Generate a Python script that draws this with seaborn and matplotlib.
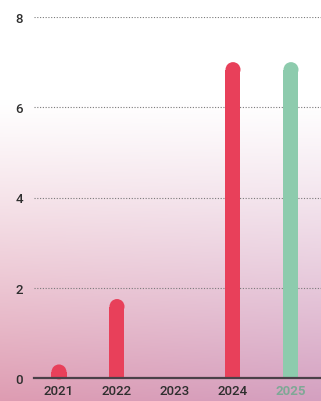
import numpy as np
import pandas as pd
import matplotlib
matplotlib.use("Agg")
import matplotlib.pyplot as plt
import seaborn as sns

YEARS = ["2021", "2022", "2023", "2024", "2025"]
VALUES = [0.3, 1.75, 0.0, 7.0, 7.0]
HIGHLIGHT = "2025"
Y_TICKS = [0, 2, 4, 6, 8]

RED = "#E8405A"
GREEN = "#8DCBAD"

W, H, DPI = 321, 402, 100

sns.set_theme(style="white")
plt.rcParams["font.family"] = ["Roboto", "DejaVu Sans"]

fig = plt.figure(figsize=(W / DPI, H / DPI), dpi=DPI)

# gradient background: white top, pink/mauve bottom
bg = fig.add_axes([0, 0, 1, 1], zorder=-10)
rows = np.linspace(0, 1, H)[:, None]
cols = np.linspace(0, 1, W)[None, :]
t = np.clip((rows - 0.25) / 0.75, 0, 1) ** 1.15
left = np.array([222, 156, 178]) / 255
right = np.array([212, 160, 192]) / 255
bottom = left[None, None, :] * (1 - cols[..., None]) + right[None, None, :] * cols[..., None]
img = (1 - t[..., None]) * np.ones(3) + t[..., None] * bottom
bg.imshow(img, aspect="auto", extent=[0, 1, 0, 1])
bg.axis("off")

ax_left, ax_bottom = 34 / W, 23 / H
ax_w, ax_h = (W - 34) / W, 361 / H
ax = fig.add_axes([ax_left, ax_bottom, ax_w, ax_h])
ax.patch.set_alpha(0)

ylim = (0, 8)
px_per_unit = 361 / (ylim[1] - ylim[0])
bar_px = 15
cap = (bar_px / 2) / px_per_unit

df = pd.DataFrame({"year": YEARS, "value": VALUES})
df["body"] = (df["value"] - cap).clip(lower=0)
palette = {y: (GREEN if y == HIGHLIGHT else RED) for y in YEARS}

sns.barplot(data=df, x="year", y="body", hue="year", palette=palette,
            width=bar_px / 58, saturation=1, legend=False, ax=ax,
            linewidth=0, zorder=3)

# rounded caps on top of each bar
shown = df[df["value"] > 0]
diam_pt = bar_px * 72 / DPI
ax.scatter([YEARS.index(y) for y in shown["year"]], shown["body"],
           s=diam_pt ** 2, c=[palette[y] for y in shown["year"]],
           linewidths=0, zorder=4, clip_on=False)

ax.set_xlim(-25 / 58, (W - 59) / 58)
ax.set_ylim(*ylim)
ax.set_yticks(Y_TICKS)
ax.set_xlabel("")
ax.set_ylabel("")

ax.set_axisbelow(True)
ax.yaxis.grid(True, linestyle=(0, (1, 1.5)), color="#7a7a7a", linewidth=0.8)
ax.xaxis.grid(False)
for s in ["top", "right", "left"]:
    ax.spines[s].set_visible(False)
ax.spines["bottom"].set_color("#4a4048")
ax.spines["bottom"].set_linewidth(1.6)
ax.spines["bottom"].set_zorder(5)

ax.tick_params(axis="both", length=0, labelsize=9.5, colors="#2e2e2e")
ax.tick_params(axis="y", pad=8)
ax.tick_params(axis="x", pad=4)
for lbl in ax.get_xticklabels() + ax.get_yticklabels():
    lbl.set_fontweight("medium")
for lbl in ax.get_xticklabels():
    if lbl.get_text() == HIGHLIGHT:
        lbl.set_color("#7FA896")
        lbl.set_fontweight("bold")

fig.savefig("out.png", dpi=DPI)
